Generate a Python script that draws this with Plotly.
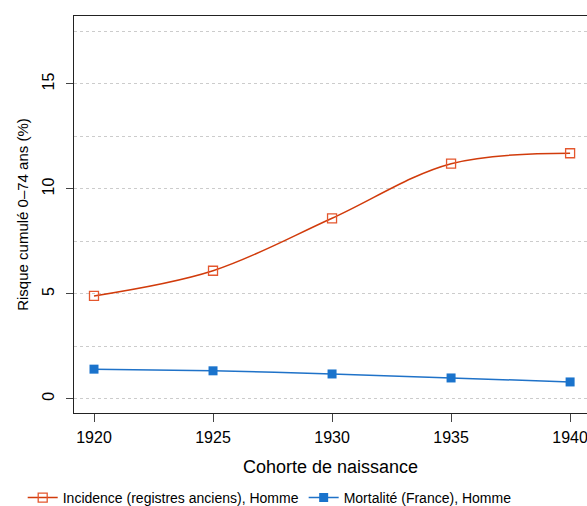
import plotly.graph_objects as go

# Cohortes de naissance
cohortes = [1920, 1925, 1930, 1935, 1940]

# Risque cumulé 0-74 ans (%)
incidence_homme = [4.9, 6.1, 8.6, 11.2, 11.7]
mortalite_homme = [1.41, 1.33, 1.18, 0.99, 0.80]

noms = ["Incidence (registres anciens), Homme", "Mortalité (France), Homme"]

fig = go.Figure()
fig.add_trace(go.Scatter(x=cohortes, y=incidence_homme, name=noms[0],
                         mode="lines+markers", line=dict(color="#D13B0B", width=1.5, shape="spline"),
                         marker=dict(symbol="square-open", size=9, color="#E4572E", line=dict(width=1.3))))
fig.add_trace(go.Scatter(x=cohortes, y=mortalite_homme, name=noms[1],
                         mode="lines+markers", line=dict(color="#1F72C8", width=1.5, shape="spline"),
                         marker=dict(symbol="square", size=9, color="#1A73CC")))

fig.update_layout(
    width=587, height=506,
    margin=dict(l=74, r=0, t=16, b=93, autoexpand=False),
    plot_bgcolor="white", paper_bgcolor="white",
    font=dict(family="Liberation Sans, Arial, sans-serif", size=15, color="black"),
    showlegend=True,
    legend=dict(orientation="h", x=-0.1, xanchor="left", y=-0.214, yanchor="middle",
                font=dict(size=14), itemwidth=30, tracegroupgap=0),
)
fig.update_xaxes(range=[1919.16, 1940.71], tickvals=cohortes, showline=True, linecolor="#222",
                 linewidth=1, mirror=True, ticks="outside", ticklen=8, tickcolor="#444",
                 tickfont=dict(size=16), ticklabelstandoff=2, automargin=False,
                 ticklabeloverflow="allow",
                 showgrid=False, zeroline=False, title=dict(text="Cohorte de naissance", standoff=15))
fig.update_yaxes(range=[-0.68, 18.24], tickvals=[0, 5, 10, 15], showline=True, linecolor="#222",
                 linewidth=1, ticks="outside", ticklen=7, tickcolor="#444", tickangle=-90,
                 tickfont=dict(size=16), ticklabelstandoff=6, automargin=False,
                 showgrid=True, gridcolor="#CCCCCC", griddash="dot", gridwidth=1, zeroline=False,
                 minor=dict(dtick=2.5, showgrid=True, gridcolor="#CCCCCC", griddash="dot"),
                 title=dict(text="Risque cumulé 0–74 ans (%)", standoff=7, font=dict(size=15)))

# pas de marge autour du graphique dans la page
fig.write_html("out.html", config={"displayModeBar": False},
               post_script="document.body.style.margin='0';")
